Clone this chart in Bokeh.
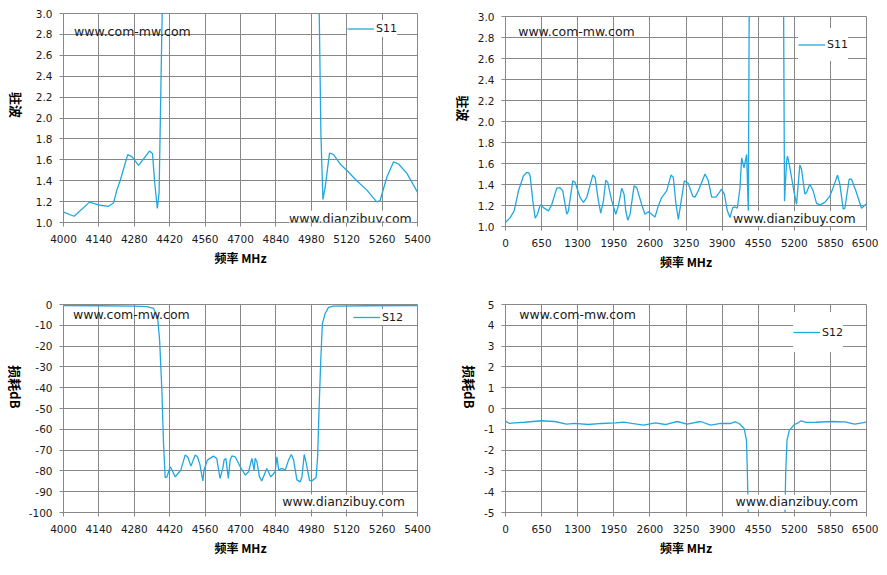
import math
from bokeh.plotting import figure
from bokeh.models import Range1d, FixedTicker, PrintfTickFormatter, Label
from bokeh.layouts import column, row
from bokeh.embed import file_html
from bokeh.resources import INLINE

LINE = "#22A7E0"
GRID = "#888888"
TEXT = "#1a1a1a"

# ---- data: S11 (VSWR), 4000-5400 MHz ----
s11_zoom_freq = [4000, 4042, 4103, 4145, 4178, 4198, 4211, 4224, 4254, 4270, 4297, 4340, 4352,
                 4360, 4371, 4378, 4393, 4400, 4700, 5000, 5008, 5018, 5026, 5035, 5052, 5068,
                 5094, 5120, 5160, 5200, 5222, 5239, 5252, 5279, 5305, 5325, 5358, 5400]
s11_zoom_vswr = [1.10, 1.06, 1.195, 1.165, 1.155, 1.187, 1.31, 1.40, 1.65, 1.63, 1.547, 1.684, 1.66,
                 1.40, 1.134, 1.28, 3.4, 20, 40, 20, 3.6, 1.85, 1.22, 1.34, 1.665, 1.65,
                 1.56, 1.50, 1.40, 1.31, 1.245, 1.197, 1.21, 1.435, 1.58, 1.56, 1.47, 1.29]

# ---- data: S11 (VSWR), 0-6500 MHz ----
s11_wide_freq = [0, 84, 156, 234, 324, 384, 414, 444, 492, 534, 576, 624, 684, 774, 833, 923, 983,
                 1031, 1103, 1133, 1211, 1253, 1343, 1403, 1463, 1571, 1613, 1673, 1715, 1763, 1805,
                 1841, 1913, 1985, 2033, 2093, 2135, 2165, 2201, 2243, 2315, 2363, 2452, 2512, 2572,
                 2632, 2692, 2752, 2812, 2902, 2980, 3022, 3070, 3112, 3154, 3220, 3292, 3370, 3412,
                 3472, 3592, 3652, 3712, 3790, 3892, 3940, 3994, 4042, 4090, 4132, 4174, 4222, 4252,
                 4294, 4342, 4372, 4390, 4400, 4700, 5000, 5005, 5024, 5061, 5078, 5120, 5192, 5240,
                 5300, 5330, 5390, 5420, 5480, 5540, 5600, 5660, 5750, 5840, 5912, 5978, 6020, 6080,
                 6110, 6188, 6230, 6308, 6410, 6500]
s11_wide_vswr = [1.038, 1.085, 1.149, 1.34, 1.483, 1.514, 1.514, 1.48, 1.244, 1.08, 1.117, 1.206, 1.18,
                 1.149, 1.21, 1.365, 1.37, 1.34, 1.117, 1.149, 1.435, 1.42, 1.276, 1.23, 1.276, 1.49,
                 1.467, 1.244, 1.127, 1.244, 1.44, 1.42, 1.244, 1.117, 1.197, 1.365, 1.308, 1.15, 1.06,
                 1.117, 1.387, 1.37, 1.21, 1.117, 1.14, 1.117, 1.09, 1.197, 1.276, 1.34, 1.49, 1.467,
                 1.21, 1.067, 1.21, 1.435, 1.41, 1.29, 1.28, 1.34, 1.50, 1.435, 1.28, 1.28, 1.355,
                 1.308, 1.149, 1.085, 1.18, 1.186, 1.174, 1.37, 1.654, 1.559, 1.686, 1.149, 3.3, 20,
                 40, 20, 3.3, 1.24, 1.625, 1.67, 1.56, 1.34, 1.21, 1.587, 1.546, 1.308, 1.324, 1.403,
                 1.34, 1.22, 1.206, 1.23, 1.29, 1.387, 1.49, 1.403, 1.165, 1.174, 1.45, 1.45, 1.34,
                 1.174, 1.216]

# ---- data: S12 (dB), 4000-5400 MHz ----
s12_zoom_freq = [4000, 4145, 4280, 4330, 4356, 4372, 4380, 4389, 4395, 4402, 4409, 4422, 4429, 4442,
                 4455, 4464, 4481, 4491, 4504, 4521, 4530, 4540, 4551, 4556, 4569, 4593, 4606, 4619,
                 4630, 4635, 4642, 4652, 4659, 4666, 4679, 4699, 4719, 4732, 4745, 4754, 4758, 4765,
                 4775, 4784, 4804, 4820, 4837, 4844, 4851, 4864, 4877, 4890, 4901, 4910, 4923, 4936,
                 4943, 4952, 4960, 4973, 4982, 4999, 5005, 5011, 5018, 5024, 5035, 5048, 5068, 5200,
                 5400]
s12_zoom_db = [-0.5, -0.6, -0.8, -1.0, -1.9, -5.9, -17, -41, -65, -83.2, -82.9, -78, -79.6, -82.9,
               -80.9, -79.6, -72.4, -73.2, -77.7, -72.4, -73.2, -77.2, -84.8, -79.6, -74.8, -72.9,
               -74, -83.6, -78.8, -74.8, -74, -83.6, -74.8, -72.8, -73.2, -78, -82, -80.4, -74,
               -79.6, -74, -75.6, -82.9, -84.8, -78.8, -82.9, -80.4, -73.2, -79.6, -78.8, -79.6,
               -74.8, -72.1, -74.8, -84.3, -85.3, -82.9, -72.1, -76.4, -84.5, -84.8, -83.2, -73.2,
               -49, -25, -9.1, -4.3, -1.4, -0.8, -0.6, -0.5]

# ---- data: S12 (dB), 0-6500 MHz ----
s12_wide_freq = [0, 72, 163, 344, 646, 887, 1098, 1249, 1491, 1732, 1973, 2124, 2275, 2486, 2698,
                 2879, 3090, 3271, 3512, 3693, 3874, 4055, 4134, 4206, 4297, 4339, 4357, 4369, 4380,
                 4402, 4700, 4999, 5018, 5033, 5045, 5069, 5112, 5202, 5250, 5323, 5413, 5594, 5866,
                 6107, 6288, 6500]
s12_wide_db = [-0.61, -0.72, -0.69, -0.66, -0.59, -0.625, -0.75, -0.72, -0.77, -0.72, -0.69, -0.66,
               -0.72, -0.80, -0.69, -0.77, -0.625, -0.75, -0.625, -0.80, -0.72, -0.72, -0.64, -0.72,
               -0.96, -1.52, -3.3, -5.0, -20, -83, -78, -83, -25, -5.0, -3.1, -1.52, -1.04, -0.77,
               -0.72, -0.59, -0.67, -0.66, -0.625, -0.64, -0.75, -0.66]

# ---- tick labels ----
ticks_x_zoom = [4000, 4140, 4280, 4420, 4560, 4700, 4840, 4980, 5120, 5260, 5400]
ticks_x_wide = [0, 650, 1300, 1950, 2600, 3250, 3900, 4550, 5200, 5850, 6500]
ticks_vswr = [1.0, 1.2, 1.4, 1.6, 1.8, 2.0, 2.2, 2.4, 2.6, 2.8, 3.0]
ticks_db_zoom = [0, -10, -20, -30, -40, -50, -60, -70, -80, -90, -100]
ticks_db_wide = [5, 4, 3, 2, 1, 0, -1, -2, -3, -4, -5]

X_LABEL = "频率 MHz"
Y_VSWR = "驻波"
Y_DB = "损耗dB"


def make(width, height, bl, br, bt, bb, xr, yr, xt, yt, yfmt, ylabel, ylabel_standoff):
    p = figure(width=width, height=height, output_backend="svg", toolbar_location=None,
               x_range=Range1d(*xr), y_range=Range1d(*yr),
               min_border_left=bl, min_border_right=br, min_border_top=bt, min_border_bottom=bb)
    p.margin = (0, 0, 0, -9)
    p.background_fill_color = "white"
    p.border_fill_color = "white"
    p.outline_line_color = GRID
    p.outline_line_width = 1
    p.xaxis.ticker = FixedTicker(ticks=xt)
    p.yaxis.ticker = FixedTicker(ticks=yt)
    p.xaxis.formatter = PrintfTickFormatter(format="%d")
    p.yaxis.formatter = PrintfTickFormatter(format=yfmt)
    for ax in (p.xaxis, p.yaxis):
        ax.axis_line_color = GRID
        ax.major_tick_line_color = GRID
        ax.major_tick_out = 4
        ax.major_tick_in = 0
        ax.minor_tick_line_color = None
        ax.major_label_text_font = "DejaVu Sans"
        ax.major_label_text_font_size = "10.5px"
        ax.major_label_text_color = TEXT
        ax.axis_label_text_font = "Noto Sans CJK SC"
        ax.axis_label_text_font_style = "bold"
        ax.axis_label_text_color = "black"
    p.xaxis.major_label_standoff = 8
    p.yaxis.major_label_standoff = 7
    p.xaxis.axis_label = X_LABEL
    p.xaxis.axis_label_text_font_size = "12px"
    p.xaxis.axis_label_standoff = 3
    p.yaxis.axis_label = ylabel
    p.yaxis.axis_label_text_font_size = "13px"
    p.yaxis.axis_label_standoff = ylabel_standoff
    try:
        p.yaxis.axis_label_orientation = -math.pi / 2
    except Exception:
        pass
    for g in (p.xgrid, p.ygrid):
        g.grid_line_color = GRID
        g.grid_line_width = 1
    p.xgrid.ticker = FixedTicker(ticks=xt)
    p.ygrid.ticker = FixedTicker(ticks=yt)
    return p


def style_legend(p, loc, gh, pad):
    lg = p.legend[0]
    lg.location = loc
    lg.background_fill_color = "white"
    lg.background_fill_alpha = 1
    lg.border_line_color = None
    lg.padding = pad
    lg.margin = 0
    lg.spacing = 0
    lg.glyph_width = 27
    lg.glyph_height = gh
    lg.label_standoff = 2
    lg.label_text_font = "DejaVu Sans"
    lg.label_text_font_size = "11px"
    lg.label_text_color = TEXT


def marks(p, x1, y1, x2, y2):
    p.add_layout(Label(x=x1, y=y1, text="www.com-mw.com", text_baseline="middle",
                       text_font="DejaVu Sans", text_font_size="12.5px", text_color="#202020"))
    p.add_layout(Label(x=x2, y=y2, text="www.dianzibuy.com", text_baseline="middle",
                       text_font="DejaVu Sans", text_font_size="12.5px", text_color="#202020",
                       background_fill_color="white", background_fill_alpha=1))


# top-left
p1 = make(457, 293, 72, 22, 13, 71, (4000, 5400), (1.0, 3.0), ticks_x_zoom, ticks_vswr,
          "%.1f", Y_VSWR, 16)
p1.line(s11_zoom_freq, s11_zoom_vswr, line_color=LINE, line_width=1.3, legend_label="S11")
style_legend(p1, (284, 185), 17, 5)
marks(p1, 4042, 2.828, 4892, 1.041)

# top-right
p2 = make(448, 293, 66, 12, 16, 67, (0, 6500), (1.0, 3.0), ticks_x_wide, ticks_vswr,
          "%.1f", Y_VSWR, 11)
p2.line(s11_wide_freq, s11_wide_vswr, line_color=LINE, line_width=1.3, legend_label="S11")
style_legend(p2, (293, 165), 33, 5)
marks(p2, 228, 2.854, 4095, 1.076)

# bottom-left
p3 = make(457, 280, 72, 22, 11, 61, (4000, 5400), (-100, 0), ticks_x_zoom, ticks_db_zoom,
          "%d", Y_DB, 10)
p3.line(s12_zoom_freq, s12_zoom_db, line_color=LINE, line_width=1.3, legend_label="S12")
style_legend(p3, (290, 187), 16, 5)
marks(p3, 4038, -4.66, 4865, -94.9)

# bottom-right
p4 = make(448, 280, 66, 12, 11, 61, (0, 6500), (-5, 5), ticks_x_wide, ticks_db_wide,
          "%d", Y_DB, 12)
p4.line(s12_wide_freq, s12_wide_db, line_color=LINE, line_width=1.3, legend_label="S12")
style_legend(p4, (288, 160), 40, 5)
marks(p4, 248, 4.534, 4141, -4.49)

layout = row(column(p1, p3), column(p2, p4))
open("out.html", "w").write(file_html(layout, INLINE))
